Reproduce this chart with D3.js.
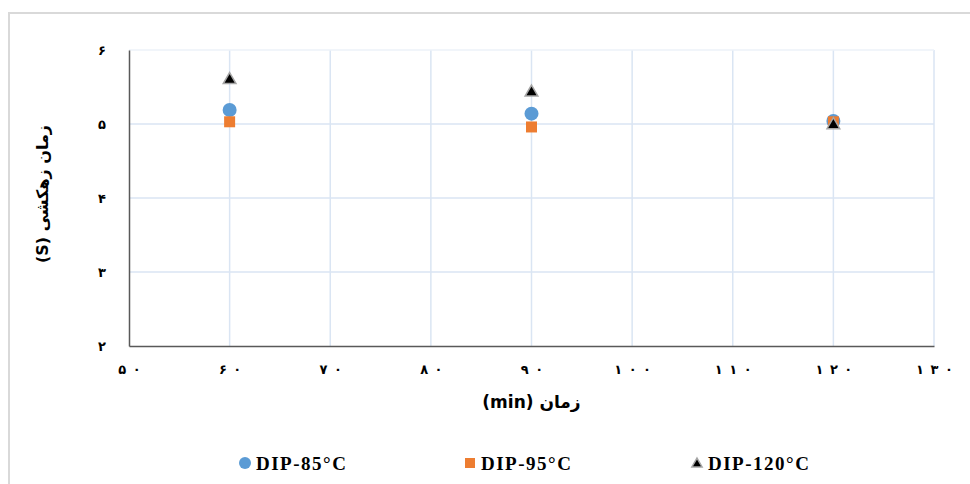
<!DOCTYPE html>
<html><head><meta charset="utf-8">
<script src="https://cdn.jsdelivr.net/npm/d3@7/dist/d3.min.js"></script>
<style>
body{margin:0;background:#fff;}
svg{display:block;}
</style></head>
<body><svg id="c" width="970" height="484"></svg>
<script>
const xValues = [60, 90, 120];
const dip85 = [5.19, 5.14, 5.04];
const dip95 = [5.03, 4.96, 5.03];
const dip120 = [5.61, 5.44, 5.00];
const seriesNames = ["DIP-85°C", "DIP-95°C", "DIP-120°C"];
const xTicks = [50, 60, 70, 80, 90, 100, 110, 120, 130];
const yTicks = [2, 3, 4, 5, 6];
const xTitle = "زمان (min)";
const yTitle = "زمان زهکشی (S)";

const fa = n => String(n).split("").map(d => "۰۱۲۳۴۵۶۷۸۹"[+d]).join("\u2002");
const svg = d3.select("#c");
// outer frame
svg.append("path").attr("d","M9,484 V13 H970").attr("fill","none").attr("stroke","#d9d9d9").attr("stroke-width",2);

const x = d3.scaleLinear().domain([50,130]).range([129,934]);
const y = d3.scaleLinear().domain([2,6]).range([346,50]);

const grid = svg.append("g");
grid.selectAll(".vx").data(xTicks.slice(1)).enter().append("line")
  .attr("x1",d=>x(d)).attr("x2",d=>x(d)).attr("y1",y(6)).attr("y2",y(2))
  .attr("stroke","#dae5f3").attr("stroke-width",1.5);
grid.selectAll(".hy").data(yTicks.slice(1)).enter().append("line")
  .attr("x1",x(50)).attr("x2",x(130)).attr("y1",d=>y(d)).attr("y2",d=>y(d))
  .attr("stroke",(d)=>d===6?"#edf2f9":"#dae5f3").attr("stroke-width",1.5);

// axes
const xa = svg.append("g").attr("transform",`translate(0,${y(2)})`)
  .call(d3.axisBottom(x).tickValues(xTicks).tickSize(0).tickFormat(fa));
xa.select(".domain").attr("stroke","#595959").attr("stroke-width",1.5);
xa.selectAll("text").attr("dy","0").attr("y",28)
  .style("font-family","DejaVu Sans").style("font-weight","bold").style("font-size","13px")
  .attr("fill","#000");
const ya = svg.append("g").attr("transform",`translate(${x(50)},0)`)
  .call(d3.axisLeft(y).tickValues(yTicks).tickSize(0).tickFormat(fa));
ya.select(".domain").attr("stroke","#595959").attr("stroke-width",1.5);
ya.selectAll("text").attr("x",-23).attr("dy","0.35em")
  .style("font-family","DejaVu Sans").style("font-weight","bold").style("font-size","13px").attr("fill","#000");

// titles
svg.append("text").attr("x",x(90)).attr("y",408).attr("text-anchor","middle")
  .style("font-family","DejaVu Sans").style("font-weight","bold").style("font-size","17px")
  .attr("direction","rtl").text(xTitle);
svg.append("text").attr("transform",`translate(48,${(y(6)+y(2))/2 - 4}) rotate(-90)`).attr("text-anchor","middle")
  .style("font-family","DejaVu Sans").style("font-weight","bold").style("font-size","16px")
  .attr("direction","rtl").text(yTitle);

// markers
const circleC = "#5b9bd5", squareC = "#ed7d31", triC = "#000";
function drawCircle(g, cx, cy, r){ g.append("circle").attr("cx",cx).attr("cy",cy).attr("r",r).attr("fill",circleC); }
function drawSquare(g, cx, cy, s){ g.append("rect").attr("x",cx-s/2).attr("y",cy-s/2).attr("width",s).attr("height",s).attr("fill",squareC); }
function drawTri(g, cx, cy, sz){ g.append("path").attr("d",d3.symbol().type(d3.symbolTriangle).size(sz)()).attr("transform",`translate(${cx},${cy+1})`).attr("fill",triC).attr("stroke","#a6a6a6").attr("stroke-width",1.5); }

const pts = svg.append("g");
xValues.forEach((xv,i)=>drawCircle(pts, x(xv), y(dip85[i]), 7));
xValues.forEach((xv,i)=>drawSquare(pts, x(xv), y(dip95[i]), 11));
xValues.forEach((xv,i)=>drawTri(pts, x(xv), y(dip120[i]), 70));

// legend
const lg = svg.append("g");
const lx = [245, 470, 697];
const ly = 463;
drawCircle(lg, lx[0], ly, 6);
drawSquare(lg, lx[1], ly, 10);
drawTri(lg, lx[2], ly, 45);
seriesNames.forEach((n,i)=>{
  lg.append("text").attr("x",lx[i]+11).attr("y",ly+7)
    .style("font-family","Liberation Serif").style("font-weight","bold").style("font-size","19px")
    .style("letter-spacing","1.5px").text(n);
});
</script></body></html>
